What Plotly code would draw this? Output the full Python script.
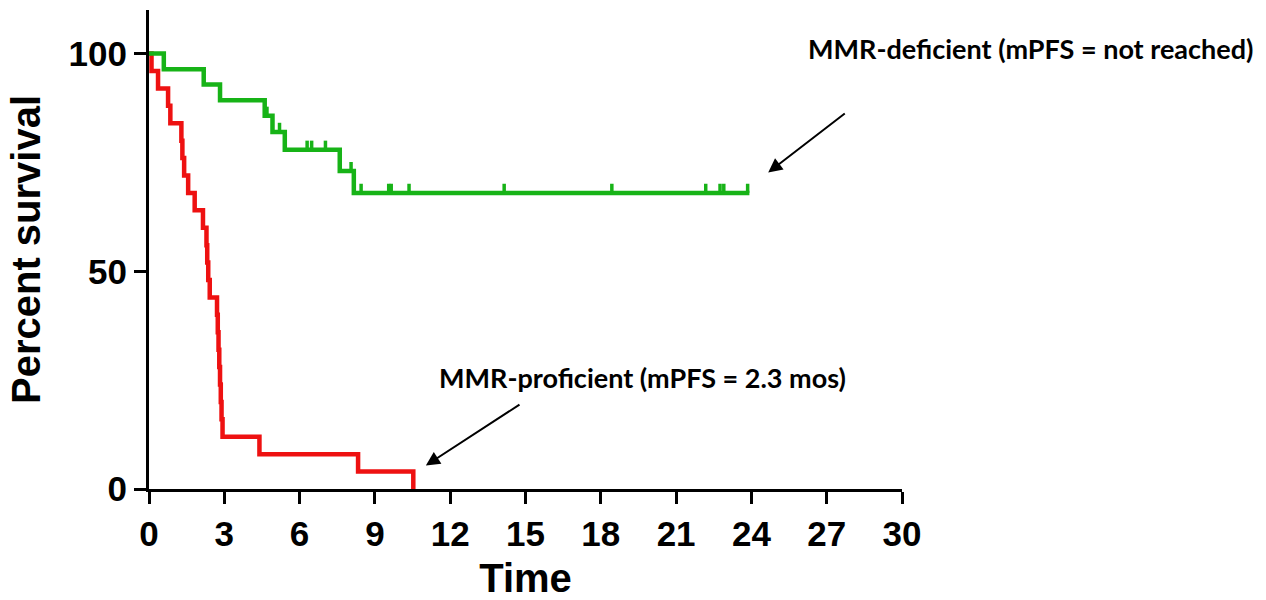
import plotly.graph_objects as go

# ---- data ----
red_time = [0, 0.10, 0.36, 0.76, 0.85, 1.29, 1.33, 1.40, 1.56, 1.82, 2.15, 2.29, 2.32, 2.36, 2.42,
            2.71, 2.74, 2.77, 2.80, 2.83, 2.86, 2.89, 2.93, 4.40, 8.33, 10.53]
red_surv = [100, 96, 92, 88, 84, 80, 76, 72, 68, 64, 60, 56, 52, 48, 44,
            40, 36, 32, 28, 24, 20, 16, 12, 8, 4, 0]

green_time = [0, 0.59, 2.18, 2.83, 4.61, 4.92, 5.41, 7.60, 8.16, 23.92]
green_surv = [100, 96.4, 92.9, 89.3, 85.7, 82.0, 77.9, 73.0, 68.0, 68.0]

green_cens_time = [4.70, 5.20, 6.30, 6.48, 7.03, 8.05, 8.45, 9.55, 9.65, 10.36,
                   14.15, 18.44, 22.18, 22.75, 22.90, 23.85]
green_cens_surv = [85.7, 82.0, 77.9, 77.9, 77.9, 73.0, 68.0, 68.0, 68.0, 68.0,
                   68.0, 68.0, 68.0, 68.0, 68.0, 68.0]

x_ticks = [0, 3, 6, 9, 12, 15, 18, 21, 24, 27, 30]
y_ticks = [0, 50, 100]

label_deficient = "MMR-deficient (mPFS = not reached)"
label_proficient = "MMR-proficient (mPFS = 2.3 mos)"

RED = "#ee1111"
GREEN = "#17b317"

fig = go.Figure()
fig.add_trace(go.Scatter(x=red_time, y=red_surv, mode="lines", line=dict(color=RED, width=4.5, shape="hv"),
                         showlegend=False, cliponaxis=False))
fig.add_trace(go.Scatter(x=green_time, y=green_surv, mode="lines", line=dict(color=GREEN, width=4.5, shape="hv"),
                         showlegend=False, cliponaxis=False))
fig.add_trace(go.Scatter(x=green_cens_time, y=green_cens_surv, mode="markers",
                         marker=dict(size=1, color=GREEN, opacity=0),
                         error_y=dict(type="data", symmetric=False, array=[2.1] * len(green_cens_time),
                                      arrayminus=[0] * len(green_cens_time), width=0, thickness=3.5, color=GREEN),
                         showlegend=False, cliponaxis=False))

ann_font = dict(family="Lato", size=27, color="black", weight="bold")
fig.add_annotation(x=(1030 - 149) / 753, y=(489 - 48) / 479, xref="paper", yref="paper", text=label_deficient,
                   showarrow=False, font=ann_font, xanchor="center", yanchor="middle")
fig.add_annotation(x=19.65, y=25.6, xref="x", yref="y", text=label_proficient, showarrow=False,
                   font=ann_font, xanchor="center", yanchor="middle")
# arrows
fig.add_annotation(x=24.67, y=72.7, ax=27.78, ay=86.5, xref="x", yref="y", axref="x", ayref="y",
                   text="", showarrow=True, arrowhead=2, arrowsize=1.4, arrowwidth=2, arrowcolor="black")
fig.add_annotation(x=11.03, y=5.4, ax=14.82, ay=19.6, xref="x", yref="y", axref="x", ayref="y",
                   text="", showarrow=True, arrowhead=2, arrowsize=1.4, arrowwidth=2, arrowcolor="black")

tick_font = dict(family="Liberation Sans", size=35, color="black", weight="bold")
title_font = dict(family="Liberation Sans", size=40, color="black", weight="bold")

fig.update_layout(
    width=1266, height=600,
    margin=dict(l=149, r=364, t=10, b=111),
    paper_bgcolor="white", plot_bgcolor="white",
    xaxis=dict(range=[0, 30], tickvals=x_ticks, ticktext=[str(v) for v in x_ticks], automargin=False,
               showgrid=False, zeroline=False, showline=True, linecolor="black", linewidth=3,
               ticks="outside", ticklen=12, tickwidth=3, tickcolor="black", tickfont=tick_font,
               title=dict(text="Time", font=title_font, standoff=17)),
    yaxis=dict(range=[0, 110], tickvals=y_ticks, ticktext=[str(v) for v in y_ticks], automargin=False,
               showgrid=False, zeroline=False, showline=True, linecolor="black", linewidth=3,
               ticks="outside", ticklen=12, tickwidth=3, tickcolor="black", tickfont=tick_font,
               title=dict(text="Percent survival", font=title_font, standoff=16)),
)

fig.write_html("out.html")
